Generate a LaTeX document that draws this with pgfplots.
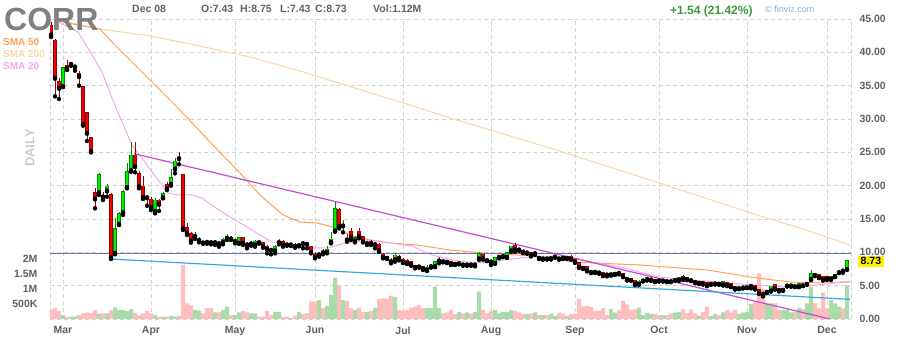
\documentclass[border=0pt]{standalone}
\usepackage{pgfplots}
\pgfplotsset{compat=1.18}
\usepackage{pgfplotstable}
\usepackage{fontspec}
\setmainfont{Liberation Sans}
\definecolor{gridc}{HTML}{D2D2D2}
\definecolor{txt}{HTML}{606060}
\definecolor{upfill}{HTML}{00F000}
\definecolor{upedge}{HTML}{008A00}
\definecolor{dnfill}{HTML}{F00000}
\definecolor{dnedge}{HTML}{9A0000}
\definecolor{volup}{HTML}{A8DCA8}
\definecolor{voldn}{HTML}{FFBDBD}
\definecolor{sma50}{HTML}{FFA055}
\definecolor{sma200}{HTML}{F5D9A5}
\definecolor{sma20}{HTML}{F2A8EC}
\definecolor{trendp}{HTML}{C04FD0}
\definecolor{trendb}{HTML}{3AA8E0}
\definecolor{hline}{HTML}{7070B8}
\definecolor{chg}{HTML}{3A9A3A}
\definecolor{fv}{HTML}{7AB0E0}

\pgfplotstableread{
i o h l c v
3 34.85 37.85 34.8 37.75 0.13
5 38.2 38.6 38.0 38.35 0.08
6 37.8 38.1 37.25 37.9 0.08
12 18.95 21.85 18.6 21.7 0.17
14 19.2 20.2 18.35 19.95 0.19
16 9.85 15.1 9.7 13.6 0.39
17 14.2 16.1 14.1 15.85 0.30
18 15.95 19.35 15.6 19.1 0.30
19 19.7 23.35 19.6 22.1 0.27
20 22.25 26.5 22.1 24.6 0.33
26 16.1 18.1 15.85 17.85 0.13
28 18.2 19.1 18.1 18.85 0.08
30 20.2 22.5 20.0 21.25 0.10
31 22.5 24.1 21.85 23.7 0.08
36 12.4 13.1 12.0 12.6 0.30
37 11.8 12.35 11.5 11.95 0.28
41 11.45 11.9 11.1 11.6 0.22
43 11.45 12.2 11.2 11.95 0.30
44 12.1 12.7 11.85 12.35 0.41
46 11.65 12.1 11.35 11.75 0.13
47 11.35 12.3 11.3 12.2 0.22
50 11.25 11.7 11.0 11.45 0.19
51 11.1 11.85 10.85 11.7 0.19
56 10.2 11.1 9.85 10.85 0.24
57 11.45 12.0 11.2 11.7 0.24
60 11.1 11.35 10.95 11.2 0.04
62 11.0 11.35 10.9 11.2 0.24
67 9.6 10.0 9.35 9.75 0.63
69 10.0 11.0 9.85 10.5 0.44
70 11.5 13.0 11.35 12.0 0.80
71 13.2 17.5 13.1 16.6 1.38
73 13.95 14.85 13.0 14.05 0.63
76 11.7 12.5 11.5 12.2 0.30
79 11.3 11.6 11.1 11.4 0.24
81 11.15 11.6 10.6 11.25 0.36
86 8.85 9.85 8.6 9.6 0.74
94 7.35 8.1 7.2 7.8 0.36
95 7.85 8.3 7.7 8.1 0.36
96 7.85 8.7 7.8 8.6 1.08
97 8.7 9.3 8.35 8.95 0.36
102 8.3 8.5 8.2 8.4 0.24
104 8.1 8.4 8.0 8.3 0.22
106 8.1 8.35 7.9 8.25 0.24
107 9.0 10.1 8.85 9.85 0.91
111 8.35 9.3 8.3 9.2 0.30
112 9.25 9.5 9.1 9.45 0.19
113 9.35 9.7 9.3 9.6 0.24
114 9.25 10.05 9.2 10.0 0.24
115 10.2 11.0 10.1 10.95 0.30
119 9.9 10.2 9.8 10.05 0.16
121 9.8 10.0 9.6 9.9 0.22
123 9.0 9.3 8.9 9.25 0.13
125 9.0 9.45 8.95 9.35 0.17
126 9.3 9.6 9.2 9.5 0.10
129 9.1 9.5 9.0 9.45 0.10
140 6.65 6.95 6.5 6.75 0.33
141 6.7 7.1 6.6 7.0 0.21
147 5.2 5.9 5.15 5.7 0.38
148 5.7 5.95 5.65 5.85 0.13
149 5.85 6.25 5.8 6.2 0.20
150 5.85 6.0 5.75 5.95 0.17
153 5.7 5.9 5.65 5.85 0.13
156 5.8 6.05 5.75 6.0 0.21
157 5.8 6.3 5.75 6.2 0.23
162 5.35 5.65 5.3 5.6 0.10
165 5.2 5.45 5.15 5.4 0.10
166 5.25 5.45 5.2 5.4 0.17
168 5.1 5.65 5.05 5.6 0.22
172 4.55 4.8 4.5 4.65 0.17
173 4.65 4.85 4.6 4.75 0.21
174 4.7 4.95 4.65 4.85 0.24
175 4.9 5.25 4.6 5.0 0.50
179 4.0 4.35 3.9 4.3 0.52
180 4.2 5.0 4.15 4.95 0.52
183 4.3 4.65 4.25 4.6 0.30
184 4.95 5.1 4.9 5.0 0.30
185 4.95 5.1 4.85 5.0 0.22
187 4.85 5.4 4.8 5.35 0.38
189 5.2 5.5 5.15 5.45 0.52
190 5.95 7.35 5.85 6.85 1.08
195 5.95 6.4 5.9 6.35 0.63
196 6.35 6.8 6.3 6.75 0.52
197 6.95 7.3 6.9 7.2 0.41
199 7.43 8.75 7.43 8.73 1.12
}\upcandles

\pgfplotstableread{
i o h l c v
0 44.1 44.6 42.3 42.6 0.30
1 41.85 42.0 33.4 36.1 0.36
2 35.6 36.1 33.0 34.6 0.27
4 38.1 38.85 37.35 37.6 0.08
7 36.85 37.2 35.0 36.35 0.13
8 34.85 34.9 29.0 29.2 0.19
9 31.0 31.1 26.7 27.85 0.21
10 27.25 27.3 25.0 25.1 0.19
11 19.0 19.6 16.6 18.0 0.30
13 18.45 19.1 17.85 18.3 0.19
15 18.7 18.85 9.0 9.2 0.30
21 24.6 26.5 22.0 22.85 0.21
22 21.85 22.2 19.6 19.85 0.13
23 19.95 21.5 18.0 18.2 0.19
24 18.35 18.6 17.0 18.2 0.27
25 18.0 18.35 16.35 16.7 0.19
27 17.85 18.0 16.2 17.2 0.08
29 20.2 20.6 19.35 19.5 0.08
32 24.15 25.0 23.2 24.05 0.10
33 21.7 21.7 13.35 13.5 1.80
34 13.75 14.35 12.6 12.85 0.52
35 12.85 13.1 11.45 11.7 0.45
38 11.7 11.75 11.3 11.4 0.19
39 11.65 11.8 11.3 11.5 0.36
40 11.6 11.85 11.2 11.45 0.36
42 11.45 11.7 10.85 11.3 0.22
45 12.2 12.5 11.85 12.0 0.13
48 12.2 12.35 11.1 11.35 0.27
49 11.35 11.6 10.6 11.1 0.22
52 11.6 11.75 11.3 11.45 0.08
53 11.45 11.6 10.7 10.85 0.08
54 10.95 11.1 9.85 10.45 0.27
55 10.4 10.6 9.7 10.3 0.13
58 11.6 11.85 10.85 11.1 0.08
59 11.35 11.5 11.0 11.1 0.08
61 11.2 11.35 10.7 10.85 0.11
63 11.4 11.5 10.6 11.3 0.17
64 11.35 11.5 10.6 11.2 0.19
65 10.85 11.0 9.85 9.95 0.58
66 9.75 10.0 9.1 9.25 0.58
68 10.05 10.5 9.7 9.95 0.36
72 16.5 16.6 13.6 13.85 1.11
74 12.1 12.7 11.6 11.85 0.60
75 13.1 13.6 11.85 12.2 0.36
77 13.2 13.7 12.1 12.35 0.38
78 12.35 12.5 11.5 11.6 0.24
80 11.6 11.8 11.1 11.25 0.27
82 11.2 11.35 10.1 10.25 0.67
83 9.75 9.85 9.1 9.25 0.69
84 9.35 9.45 9.0 9.1 0.67
85 8.85 9.1 8.35 8.6 0.78
87 9.45 9.6 8.8 9.0 0.30
88 9.0 9.1 8.4 8.5 0.28
89 8.85 8.95 8.25 8.35 0.30
90 8.6 8.7 8.0 8.1 0.38
91 8.0 8.1 7.6 7.7 0.41
92 8.0 8.1 7.7 7.8 0.47
93 7.85 7.95 7.35 7.5 0.36
98 8.85 9.0 8.5 8.6 0.19
99 8.75 8.85 8.4 8.5 0.22
100 8.6 8.7 8.1 8.2 0.30
101 8.45 8.55 8.1 8.2 0.16
103 8.35 8.45 8.0 8.1 0.19
105 8.35 8.45 8.0 8.1 0.19
108 9.7 9.8 8.9 9.0 0.30
109 9.0 9.1 8.7 8.75 0.19
110 8.65 8.85 8.1 8.55 0.27
116 11.1 11.35 10.1 10.35 0.27
117 10.6 10.7 10.25 10.35 0.22
118 10.35 10.45 9.9 10.0 0.17
120 10.0 10.1 9.4 9.5 0.19
122 9.35 9.45 9.0 9.1 0.13
124 9.2 9.3 8.95 9.0 0.13
127 9.25 9.35 8.9 9.0 0.21
128 9.35 9.45 9.0 9.1 0.17
130 9.45 9.55 8.9 8.95 0.16
131 8.95 9.0 8.45 8.5 0.18
132 8.5 8.55 7.7 7.75 0.67
133 7.85 8.0 7.5 7.6 0.42
134 7.85 7.95 7.15 7.25 0.44
135 7.2 7.3 6.9 7.0 0.40
136 7.2 7.3 6.9 7.0 0.27
137 7.1 7.2 6.8 6.9 0.27
138 7.0 7.05 6.45 6.5 0.36
139 6.65 6.9 6.4 6.6 0.13
142 6.9 7.0 6.7 6.85 0.30
143 6.85 6.9 6.3 6.35 0.60
144 6.3 6.35 5.8 5.85 0.49
145 6.1 6.2 5.75 5.8 0.30
146 5.85 5.9 5.1 5.2 0.32
151 6.0 6.05 5.55 5.6 0.17
152 5.85 5.95 5.65 5.7 0.13
154 5.85 5.9 5.55 5.6 0.13
155 5.85 5.9 5.55 5.6 0.19
158 6.35 6.6 5.9 5.95 0.33
159 6.2 6.25 5.85 5.9 0.19
160 6.0 6.05 5.7 5.75 0.32
161 5.85 5.9 5.4 5.45 0.19
163 5.6 5.65 5.2 5.25 0.24
164 5.45 5.5 4.95 5.0 0.41
167 5.45 5.5 5.15 5.2 0.13
169 5.5 5.6 4.95 5.0 0.30
170 5.35 5.4 4.8 4.85 0.22
171 4.95 5.0 4.45 4.5 0.30
176 5.0 5.1 4.45 4.5 0.55
177 4.45 4.5 3.8 3.85 1.52
178 3.95 4.2 3.4 3.5 1.00
181 5.2 5.3 4.45 4.5 0.52
182 4.6 4.7 4.15 4.2 0.30
186 5.1 5.15 4.8 4.85 0.24
188 5.25 5.3 4.95 5.0 0.33
191 6.85 6.95 6.45 6.5 0.52
192 6.7 6.8 6.15 6.2 0.35
193 6.45 6.5 5.8 5.85 0.88
194 6.35 6.4 5.9 5.95 0.35
198 7.25 7.3 6.95 7.19 0.35
}\dncandles

\pgfplotsset{
  chartbox/.style={at={(50pt,21pt)}, anchor=south west, scale only axis,
    width=801pt, height=300pt, xmin=-0.25, xmax=200},
  lbl/.style={font=\bfseries\fontsize{10.5}{12}\selectfont, text=txt},
}

\begin{document}
\begin{tikzpicture}
\path[use as bounding box] (0,0) rectangle (900pt,340pt);

% grid and price / month labels
\begin{axis}[chartbox, ymin=0, ymax=45,
  axis line style={draw=none},
  xtick={3,25,46,66,88,110,131,152,174,194},
  xticklabels={Mar,Apr,May,Jun,Jul,Aug,Sep,Oct,Nov,Dec},
  extra x ticks={-0.25,200}, extra x tick labels={},
  ytick={0,5,...,45},
  yticklabels={0.00,5.00,10.00,15.00,20.00,25.00,30.00,35.00,40.00,45.00},
  yticklabel pos=right,
  major tick length=0pt,
  xmajorgrids, ymajorgrids,
  extra x tick style={xmajorgrids},
  major grid style={gridc, dash pattern=on 4pt off 3pt, line width=0.8pt},
  tick label style={lbl},
  xticklabel style={yshift=-4pt},
  yticklabel style={xshift=5pt},
]
\addplot[draw=none] coordinates {(0,0)};
\end{axis}

% volume
\begin{axis}[chartbox, ymin=0, ymax=10,
  axis line style={draw=none},
  xtick=\empty,
  ytick={0.5,1,1.5,2}, yticklabels={500K,1M,1.5M,2M},
  major tick length=0pt,
  tick label style={lbl},
  yticklabel style={xshift=-9pt},
]
\addplot[ybar, bar width=4pt, fill=voldn, draw=none] table[x=i, y=v]{\dncandles};
\addplot[ybar, bar width=4pt, fill=volup, draw=none] table[x=i, y=v]{\upcandles};
\end{axis}

% price: moving averages, trendlines, candles
\begin{axis}[chartbox, ymin=0, ymax=45, hide axis]
\addplot[sma200, line width=1pt] coordinates {
(1.75,44.85) (12.25,43.5) (24.75,42.45) (37.25,40.95) (49.75,39.3) (62.25,37.2)
(87.25,32.55) (101.5,29.85) (112.25,27.9) (124.75,25.65) (149.75,20.85)
(176.5,15.6) (187.25,13.65) (199.75,11.1)};
\addplot[sma50, line width=1pt] coordinates {
(1.75,44.7) (6.75,44.1) (12.25,43.5) (15.25,41.55) (23.5,36.6) (31.75,31.65)
(39.75,26.55) (47.25,21.9) (52.25,18.6) (58,15.6) (62.25,14.55) (66.5,14.4)
(70.5,13.8) (74.75,12.6) (79.75,11.85) (84.75,11.4) (91.5,11.1) (99.75,10.35)
(108,9.9) (116.5,9.6) (124.75,9.3) (130.5,8.55) (147.25,8.1) (164,7.35)
(176.5,6.15) (184.75,5.55) (193,5.4) (199.75,5.55)};
\addplot[sma20, line width=1pt] coordinates {
(1.75,44.55) (6.75,43.05) (9.25,40.65) (12.75,37.05) (15.25,33.15) (17.75,29.55)
(20.25,26.1) (22.75,24.15) (25.25,22.05) (27.75,20.1) (29.25,18.9) (31.75,18.6)
(35.25,18.6) (37.75,18.15) (39.75,17.25) (44,15.6) (49,13.8) (52.25,12.6)
(55.25,11.55) (60.25,11.25) (66,10.65) (69.25,10.65) (73.5,11.4) (79.75,11.85)
(84.75,11.4) (90.25,10.95) (95.25,9.6) (100.25,8.85) (106,8.4) (110.25,8.55)
(115.25,9.0) (119.75,9.3) (126.75,9.3) (131,9.15) (135.25,8.55) (143.5,7.65)
(151.75,6.3) (159.75,5.85) (166.75,5.55) (175.25,5.1) (183.5,4.8) (191.75,5.1)
(199.75,5.7)};
\addplot[hline, line width=1.1pt] coordinates {(-0.25,9.85) (200,9.85)};
\addplot[trendp, line width=1.2pt] coordinates {(20.75,24.8) (194.75,0)};
\addplot[trendb, line width=1.2pt] coordinates {(15,9.0) (199.75,2.95)};

% wicks
\addplot[only marks, mark=none, error bars/.cd, y dir=plus, y explicit, error mark=none,
  error bar style={draw=dnedge, solid, line width=1pt}]
  table[x=i, y=l, y error expr=\thisrow{h}-\thisrow{l}]{\dncandles};
\addplot[only marks, mark=none, error bars/.cd, y dir=plus, y explicit, error mark=none,
  error bar style={draw=upedge, solid, line width=1pt}]
  table[x=i, y=l, y error expr=\thisrow{h}-\thisrow{l}]{\upcandles};
% body outlines
\addplot[only marks, mark=none, error bars/.cd, y dir=plus, y explicit, error mark=none,
  error bar style={draw=dnedge, solid, line width=3.5pt}]
  table[x=i, y expr=\thisrow{c}-0.06, y error expr=\thisrow{o}-\thisrow{c}+0.12]{\dncandles};
\addplot[only marks, mark=none, error bars/.cd, y dir=plus, y explicit, error mark=none,
  error bar style={draw=upedge, solid, line width=3.5pt}]
  table[x=i, y expr=\thisrow{o}-0.06, y error expr=\thisrow{c}-\thisrow{o}+0.12]{\upcandles};
% body fills
\addplot[only marks, mark=none, error bars/.cd, y dir=plus, y explicit, error mark=none,
  error bar style={draw=dnfill, solid, line width=2pt}]
  table[x=i, y expr=\thisrow{c}+0.06, y error expr={max(\thisrow{o}-\thisrow{c}-0.12,0)}]{\dncandles};
\addplot[only marks, mark=none, error bars/.cd, y dir=plus, y explicit, error mark=none,
  error bar style={draw=upfill, solid, line width=2pt}]
  table[x=i, y expr=\thisrow{o}+0.06, y error expr={max(\thisrow{c}-\thisrow{o}-0.12,0)}]{\upcandles};
\end{axis}

% header texts
\node[anchor=base west, inner sep=0, text=black!50, font=\bfseries\fontsize{32}{34}\selectfont] at (4pt,309pt) {CORR};
\node[anchor=base west, inner sep=0, font=\bfseries\fontsize{10.5}{12}\selectfont, text=txt] at (132pt,327pt) {Dec 08};
\node[anchor=base west, inner sep=0, font=\bfseries\fontsize{10.5}{12}\selectfont, text=txt] at (201pt,327pt) {O:7.43};
\node[anchor=base west, inner sep=0, font=\bfseries\fontsize{10.5}{12}\selectfont, text=txt] at (240pt,327pt) {H:8.75};
\node[anchor=base west, inner sep=0, font=\bfseries\fontsize{10.5}{12}\selectfont, text=txt] at (280pt,327pt) {L:7.43};
\node[anchor=base west, inner sep=0, font=\bfseries\fontsize{10.5}{12}\selectfont, text=txt] at (315pt,327pt) {C:8.73};
\node[anchor=base west, inner sep=0, font=\bfseries\fontsize{10.5}{12}\selectfont, text=txt] at (373pt,327pt) {Vol:1.12M};
\node[anchor=base west, inner sep=0, font=\bfseries\fontsize{12}{14}\selectfont, text=chg] at (670pt,325.5pt) {+1.54 (21.42\%)};
\node[anchor=base west, inner sep=0, font=\fontsize{9}{11}\selectfont, text=fv] at (765pt,327pt) {\textcopyright\ finviz.com};
\node[anchor=base west, inner sep=0, font=\bfseries\fontsize{10}{12}\selectfont, text=sma50] at (3pt,294pt) {SMA 50};
\node[anchor=base west, inner sep=0, font=\bfseries\fontsize{10}{12}\selectfont, text=sma200] at (3pt,282.5pt) {SMA 200};
\node[anchor=base west, inner sep=0, font=\bfseries\fontsize{10}{12}\selectfont, text=sma20] at (3pt,270pt) {SMA 20};
\node[rotate=90, inner sep=0, font=\bfseries\fontsize{13}{15}\selectfont, text=black!20] at (30pt,192pt) {DAILY};
\node[anchor=west, fill=yellow, inner xsep=2.5pt, inner ysep=1.5pt, font=\bfseries\fontsize{10.5}{12}\selectfont, text=black] at (858pt,78.7pt) {8.73};
\end{tikzpicture}
\end{document}
